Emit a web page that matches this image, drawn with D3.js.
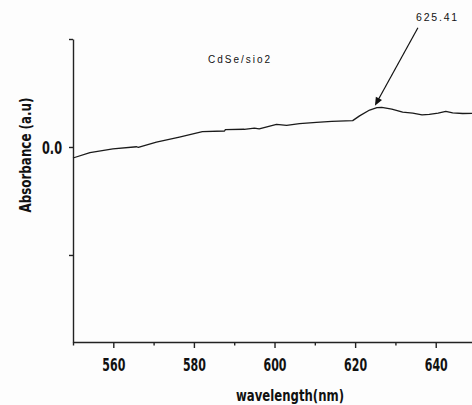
<!DOCTYPE html>
<html>
<head>
<meta charset="utf-8">
<script src="https://cdn.jsdelivr.net/npm/d3@7"></script>
<style>
  html, body { margin: 0; padding: 0; background: #fdfdfd; }
  svg { display: block; }
  .bold { font-family: "DejaVu Sans", sans-serif; font-weight: bold; fill: #111; }
  .thin { font-family: "Liberation Sans", Arial, sans-serif; fill: #111; }
</style>
</head>
<body>
<svg id="chart" width="472" height="405"></svg>
<script>
// Absorption spectrum of CdSe/SiO2 (wavelength in nm, absorbance in a.u.)
const wavelength = [550, 554.2, 559.9, 565.8, 566.2, 570.7, 576.4, 582.1, 587.6, 587.8, 592.5, 595.0, 596.2,
  600.5, 603.0, 606.2, 610.4, 614.2, 619.4, 621.1, 623.6, 625.41, 626.6, 629.1, 631.8, 634.3, 636.6,
  638.4, 640.6, 642.5, 644.2, 646.7, 649];
const absorbance = [-0.051, -0.026, -0.009, 0.001, -0.002, 0.023, 0.046, 0.071, 0.074, 0.080, 0.082, 0.087, 0.084,
  0.105, 0.100, 0.108, 0.114, 0.119, 0.122, 0.144, 0.171, 0.182, 0.183, 0.175, 0.161, 0.157, 0.149,
  0.151, 0.157, 0.165, 0.158, 0.155, 0.156];

const xMajorTicks = [560, 580, 600, 620, 640];
const xMinorTicks = [550, 570, 590, 610, 630];
const yTicks = [0.5, 0.0, -0.5];
const yTickLabels = ["", "0.0", ""];

const sampleLabel = "CdSe/sio2";
const peakLabel = "625.41";
const peakWavelength = 625.41;
const xTitle = "wavelength(nm)";
const yTitle = "Absorbance (a.u)";

const svg = d3.select("#chart");
const plotLeft = 73, plotRight = 472, plotTop = 39, plotBottom = 342;

const x = d3.scaleLinear().domain([550, 649]).range([plotLeft, plotRight]);
const y = d3.scaleLinear().domain([-0.903, 0.5]).range([plotBottom, plotTop]);

const axisColor = "#222";

// condensed bold labels: squeeze glyphs to a fixed width
function condense(sel, width) {
  sel.attr("textLength", width).attr("lengthAdjust", "spacingAndGlyphs");
}

// x axis: major ticks with labels, minor ticks without
const xAxis = svg.append("g").attr("transform", `translate(0,${plotBottom})`)
  .call(d3.axisBottom(x).tickValues(xMajorTicks).tickSize(6).tickSizeOuter(0).tickFormat(d3.format("d")));
xAxis.select(".domain").attr("stroke", axisColor).attr("stroke-width", 1.4);
xAxis.selectAll(".tick line").attr("stroke", axisColor).attr("stroke-width", 1.4);
xAxis.selectAll(".tick text").attr("class", "bold").attr("font-size", 17).attr("dy", 0).attr("y", 29)
  .call(condense, 23);

const xMinor = svg.append("g").attr("transform", `translate(0,${plotBottom})`)
  .call(d3.axisBottom(x).tickValues(xMinorTicks).tickSize(3.5).tickSizeOuter(0).tickFormat(""));
xMinor.select(".domain").remove();
xMinor.selectAll(".tick line").attr("stroke", axisColor).attr("stroke-width", 1.4);

// y axis
const yAxis = svg.append("g").attr("transform", `translate(${plotLeft},0)`)
  .call(d3.axisLeft(y).tickValues(yTicks).tickSize(4).tickSizeOuter(0)
    .tickFormat((d, i) => yTickLabels[i]));
yAxis.select(".domain").attr("stroke", axisColor).attr("stroke-width", 1.4);
yAxis.selectAll(".tick line").attr("stroke", axisColor).attr("stroke-width", 1.4);
yAxis.selectAll(".tick text").attr("class", "bold").attr("font-size", 17).attr("x", -11).attr("dy", "0.36em")
  .filter(d => d === 0).call(condense, 20);

// spectrum trace
const points = wavelength.map((w, i) => [w, absorbance[i]]);
svg.append("path")
  .datum(points)
  .attr("fill", "none")
  .attr("stroke", "#1a1a1a")
  .attr("stroke-width", 1.3)
  .attr("stroke-linejoin", "round")
  .attr("d", d3.line().x(d => x(d[0])).y(d => y(d[1])));

// axis titles
svg.append("text").attr("class", "bold").attr("font-size", 16)
  .attr("text-anchor", "middle").attr("x", 290).attr("y", 401).text(xTitle).call(condense, 108);
svg.append("text").attr("class", "bold").attr("font-size", 16)
  .attr("text-anchor", "middle")
  .attr("transform", "translate(31,155) rotate(-90)").text(yTitle).call(condense, 115);

// sample label
svg.append("text").attr("class", "thin").attr("font-size", 10).attr("letter-spacing", 2)
  .attr("x", 208).attr("y", 63).text(sampleLabel);

// peak annotation with arrow
const peakIdx = wavelength.indexOf(peakWavelength);
const tipX = x(peakWavelength) - 2, tipY = y(absorbance[peakIdx]) - 2;
const startX = tipX + 43, startY = tipY - 78;
const ang = Math.atan2(tipY - startY, tipX - startX);
svg.append("line")
  .attr("x1", startX).attr("y1", startY).attr("x2", tipX - 6 * Math.cos(ang)).attr("y2", tipY - 6 * Math.sin(ang))
  .attr("stroke", "#111").attr("stroke-width", 1.2);
const head = 9, spread = 0.4;
svg.append("path")
  .attr("d", `M${tipX},${tipY}` +
    `L${tipX - head * Math.cos(ang - spread)},${tipY - head * Math.sin(ang - spread)}` +
    `L${tipX - head * Math.cos(ang + spread)},${tipY - head * Math.sin(ang + spread)}Z`)
  .attr("fill", "#111");
svg.append("text").attr("class", "thin").attr("font-size", 10.5).attr("letter-spacing", 1.8)
  .attr("x", 416).attr("y", 21).text(peakLabel);
</script>
</body>
</html>
